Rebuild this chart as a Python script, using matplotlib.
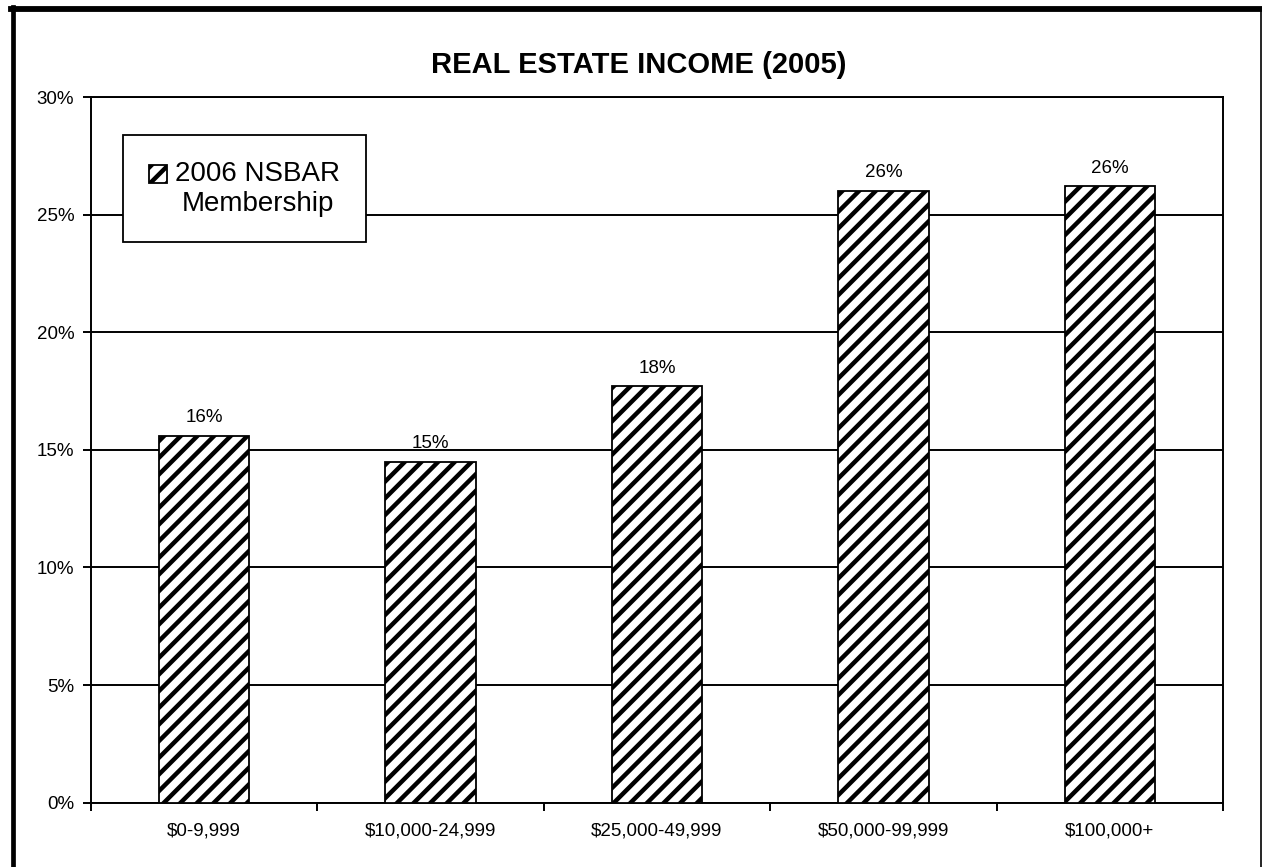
import math

import matplotlib
matplotlib.use("Agg")
import matplotlib.pyplot as plt
from matplotlib.lines import Line2D
from matplotlib.patches import Rectangle
from matplotlib.container import BarContainer
from matplotlib.legend_handler import HandlerPatch, update_from_first_child
from matplotlib.ticker import FixedLocator, FuncFormatter

# income brackets and share of members (%)
categories = ["$0-9,999", "$10,000-24,999", "$25,000-49,999",
              "$50,000-99,999", "$100,000+"]
membership = [15.6, 14.5, 17.7, 26.0, 26.2]
series_name = "2006 NSBAR\nMembership"
title = "REAL ESTATE INCOME (2005)"
y_ticks = [0, 5, 10, 15, 20, 25, 30]

plt.rcParams["font.family"] = ["Liberation Sans", "DejaVu Sans"]
plt.rcParams["hatch.linewidth"] = 3.2

W, H, DPI = 1262, 867, 100
fig = plt.figure(figsize=(W / DPI, H / DPI), dpi=DPI)
fig.patch.set_facecolor("white")
ax = fig.add_axes([91 / W, 1 - 802.7 / H, (1223 - 91) / W, (802.7 - 97) / H])

x = list(range(len(categories)))
bars = ax.bar(x, membership, width=0.4, color="white", edgecolor="black",
              hatch="//", linewidth=1.3, label=series_name, zorder=3)


def pct(v):
    # round half up, the way the spreadsheet labels do
    return f"{math.floor(v + 0.5)}%"


ax.bar_label(bars, labels=[pct(v) for v in membership], padding=7,
             fontsize=13.5)

ax.set_xlim(-0.5, len(categories) - 0.5)
ax.set_ylim(0, 30)
ax.yaxis.set_major_locator(FixedLocator(y_ticks))
ax.yaxis.set_major_formatter(FuncFormatter(lambda v, _: f"{v:.0f}%"))
ax.grid(axis="y", color="black", linewidth=1.4, zorder=0)

# tick marks sit between the brackets, labels under the bar centres
ax.xaxis.set_major_locator(FixedLocator([i + 0.5 for i in range(-1, len(categories))]))
ax.xaxis.set_major_formatter(FuncFormatter(lambda v, _: ""))
ax.xaxis.set_minor_locator(FixedLocator(x))
ax.set_xticklabels(categories, minor=True)
ax.tick_params(axis="x", which="major", direction="out", length=6, width=1.4)
ax.tick_params(axis="x", which="minor", length=0, pad=14, labelsize=13.5)
ax.tick_params(axis="y", direction="out", length=6, width=1.4, pad=6,
               labelsize=13.5)
for s in ax.spines.values():
    s.set_linewidth(1.4)
    s.set_color("black")

ax.set_title(title, fontsize=21, fontweight="bold", x=0.484, pad=17.5)

LEG_FS = 20
LEG_LS = 1.2


def top_line_swatch(legend, orig_handle, xdescent, ydescent, width, height,
                    fontsize):
    # swatch beside the first line of the two-line label
    lift = 0.45 * LEG_LS * fontsize
    return Rectangle((-xdescent, -ydescent + lift), width, height)


swatch = HandlerPatch(patch_func=top_line_swatch,
                      update_func=update_from_first_child)
leg = ax.legend(loc="upper left", bbox_to_anchor=(0.0283, 0.946),
                borderaxespad=0, fontsize=LEG_FS, frameon=True, fancybox=False,
                framealpha=1, handlelength=0.65, handleheight=0.65,
                handletextpad=0.3, borderpad=0.92,
                handler_map={BarContainer: swatch})
leg.get_frame().set_edgecolor("black")
leg.get_frame().set_linewidth(1.3)
for t in leg.get_texts():
    t.set_linespacing(LEG_LS)
    t.set_multialignment("center")

# outer border of the chart area
fig.add_artist(Line2D([13 / W, 13 / W], [0, 1 - 7 / H], color="black",
                      linewidth=3.4, transform=fig.transFigure))
fig.add_artist(Line2D([11 / W, 1261 / W], [1 - 9 / H, 1 - 9 / H],
                      color="black", linewidth=4.2, transform=fig.transFigure))
fig.add_artist(Line2D([1261 / W, 1261 / W], [0, 1 - 9 / H], color="black",
                      linewidth=1.2, transform=fig.transFigure))

fig.savefig("out.png", dpi=DPI, facecolor="white")
